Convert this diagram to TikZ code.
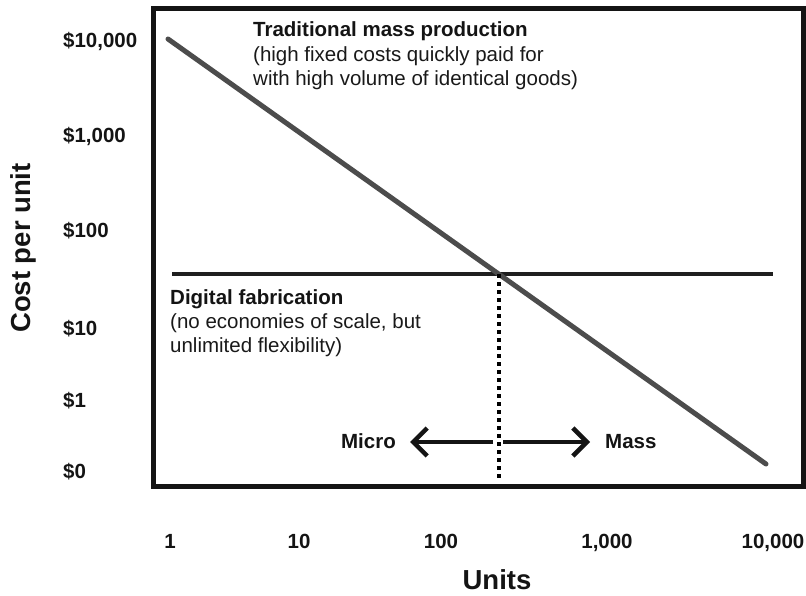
\documentclass[tikz,border=0pt]{standalone}
\usepackage{fontspec}
\setmainfont{Liberation Sans}
\usetikzlibrary{arrows.meta}
\begin{document}
\begin{tikzpicture}[x=1pt,y=-1pt,
  lbl/.style={inner sep=0pt, anchor=base west, font=\fontsize{20.5}{24}\selectfont\bfseries, text=black!92},
  tick/.style={inner sep=0pt, anchor=base, font=\fontsize{20.5}{24}\selectfont\bfseries, text=black!92},
  txt/.style={inner sep=0pt, anchor=base west, font=\fontsize{20.5}{24}\selectfont, text=black!90},
  axtitle/.style={inner sep=0pt, anchor=base, font=\fontsize{27.5}{32}\selectfont\bfseries, text=black!92},
  framebox/.style={line width=5pt, draw=black!92},
  costline/.style={line width=5pt, draw=black!70},
  flatline/.style={line width=4.5pt, draw=black!88},
  dotline/.style={line width=4pt, dash pattern=on 4pt off 4pt, draw=black},
  dirarrow/.style={line width=4.5pt, -{Straight Barb[length=14pt,width=28pt]}, draw=black!92}]
\useasboundingbox (0,0) rectangle (806,596);
% frame
\draw[framebox] (153,9) rectangle (803,486);
% coordinates
\coordinate (cstart) at (168,39);
\coordinate (cend) at (766,464);
\coordinate (fstart) at (172,274);
\coordinate (fend) at (773,274);
\coordinate (cross) at (499,274);
\coordinate (dbottom) at (499,479);
\coordinate (lstart) at (493,442);
\coordinate (ltip) at (410,442);
\coordinate (rstart) at (503,442);
\coordinate (rtip) at (590,442);
% lines
\draw[flatline] (fstart) -- (fend);
\draw[costline, line cap=round] (cstart) -- (cend);
\draw[dotline] (cross) -- (dbottom);
\draw[dirarrow] (lstart) -- (ltip);
\draw[dirarrow] (rstart) -- (rtip);
% annotation texts
\node[lbl] (tmp) at (253,37) {Traditional mass production};
\node[txt] (tmp2) at (253,62) {(high fixed costs quickly paid for};
\node[txt] (tmp3) at (253,86) {with high volume of identical goods)};
\node[lbl] (df) at (170,304) {Digital fabrication};
\node[txt] (df2) at (170,328) {(no economies of scale, but};
\node[txt] (df3) at (170,352) {unlimited flexibility)};
\node[lbl, anchor=base east] (micro) at (396,448) {Micro};
\node[lbl] (mass) at (605,448) {Mass};
% y axis labels
\node[lbl] (y4) at (63,48) {\$10,000};
\node[lbl] (y3) at (63,143) {\$1,000};
\node[lbl] (y2) at (63,238) {\$100};
\node[lbl] (y1) at (63,335) {\$10};
\node[lbl] (y0) at (63,407) {\$1};
\node[lbl] (yz) at (63,478) {\$0};
% x axis labels
\node[tick] (x0) at (170,548) {1};
\node[tick] (x1) at (299,548) {10};
\node[tick] (x2) at (441,548) {100};
\node[tick] (x3) at (607,548) {1,000};
\node[tick] (x4) at (773,548) {10,000};
% axis titles
\node[axtitle] (units) at (497,589) {Units};
\node[axtitle, rotate=90] (cpu) at (30,248) {Cost per unit};
\end{tikzpicture}
\end{document}
